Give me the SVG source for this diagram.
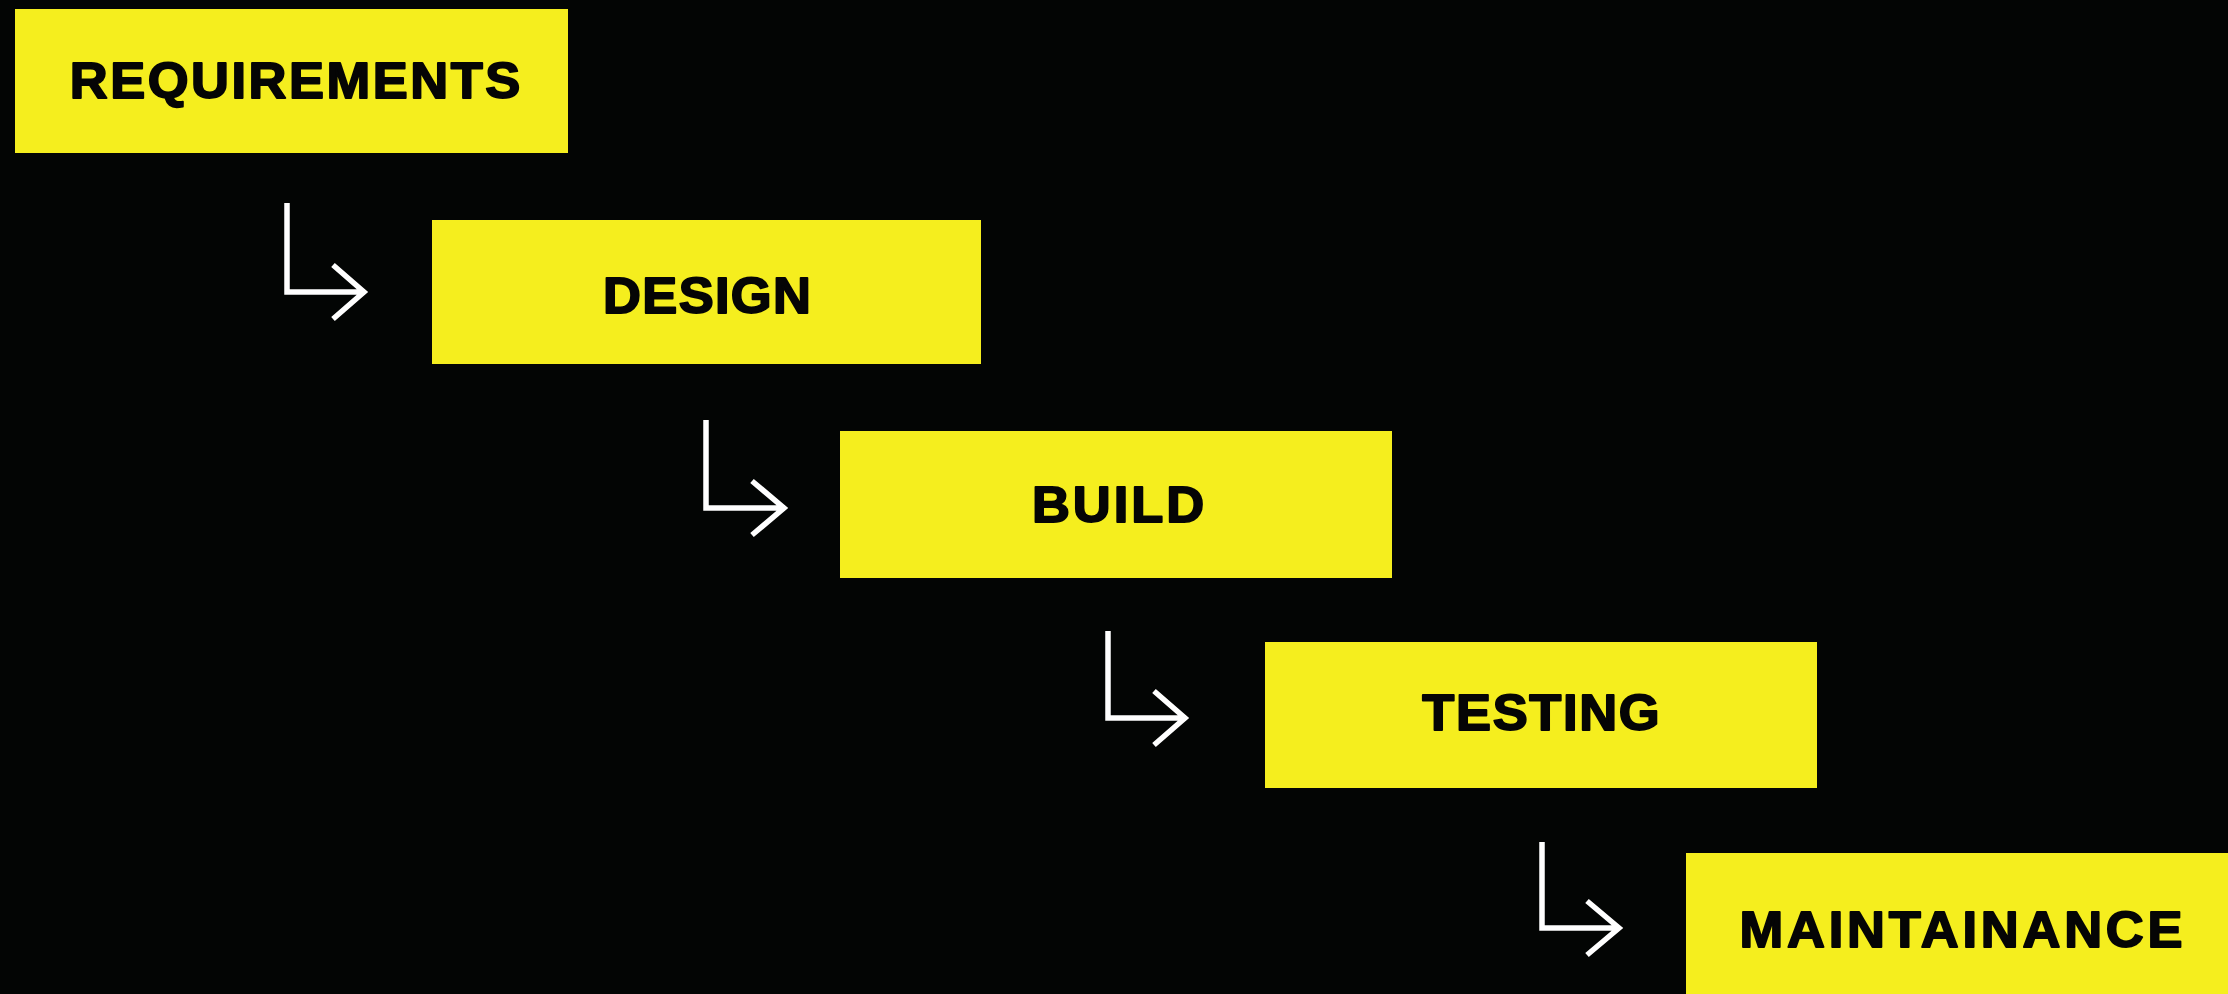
<svg xmlns="http://www.w3.org/2000/svg" width="2228" height="994" viewBox="0 0 2228 994">
<style>
.box{fill:#F5EE1E;}
.lbl{font-family:"Liberation Sans",Arial,sans-serif;font-weight:bold;font-size:50px;fill:#050505;stroke:#050505;stroke-width:1.8px;stroke-linejoin:round;text-anchor:middle;}
.arr{fill:none;stroke:#FFFFFF;stroke-width:5.5;stroke-linecap:butt;stroke-linejoin:miter;}
</style>
<rect width="2228" height="994" fill="#030504"/>
<g id="requirements"><rect class="box" x="15" y="9" width="553" height="144"/><text class="lbl" transform="translate(295 0) scale(1.05 1)" x="0" y="98" textLength="429" lengthAdjust="spacing">REQUIREMENTS</text></g>
<g id="design"><rect class="box" x="432" y="220" width="549" height="144"/><text class="lbl" transform="translate(707 0) scale(1.05 1)" x="0" y="313" textLength="198" lengthAdjust="spacing">DESIGN</text></g>
<g id="build"><rect class="box" x="840" y="431" width="552" height="147"/><text class="lbl" transform="translate(1118 0) scale(1.05 1)" x="0" y="522" textLength="164" lengthAdjust="spacing">BUILD</text></g>
<g id="testing"><rect class="box" x="1265" y="642" width="552" height="146"/><text class="lbl" transform="translate(1541 0) scale(1.05 1)" x="0" y="730" textLength="226" lengthAdjust="spacing">TESTING</text></g>
<g id="maintainance"><rect class="box" x="1686" y="853" width="542" height="141"/><text class="lbl" transform="translate(1961 0) scale(1.05 1)" x="0" y="947" textLength="422" lengthAdjust="spacing">MAINTAINANCE</text></g>
<g id="connectors">
<path class="arr" d="M287 203 V292 H364 M333 265 L364 292 L333 319"/>
<path class="arr" d="M706 420 V508 H784 M752 481 L784 508 L752 535"/>
<path class="arr" d="M1108 631 V718 H1185 M1154 691 L1185 718 L1154 745"/>
<path class="arr" d="M1542 842 V928 H1619 M1587 901 L1619 928 L1587 955"/>
</g>
</svg>
